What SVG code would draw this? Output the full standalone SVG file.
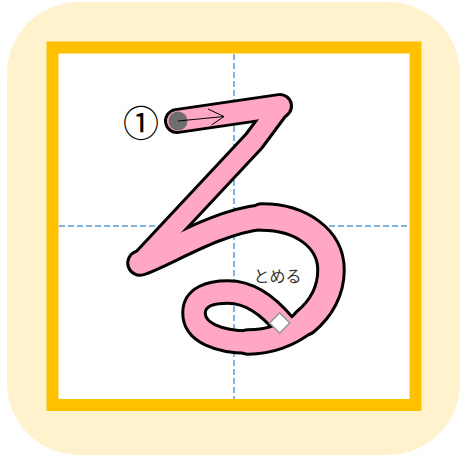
<svg xmlns="http://www.w3.org/2000/svg" width="463" height="458" viewBox="0 0 463 458">
  <style>
    .ol { fill: none; stroke: #000000; stroke-linecap: round; stroke-linejoin: round; }
    .pk { fill: none; stroke: #FFA7C4; stroke-linecap: round; stroke-linejoin: round; }
    .guide { stroke: #5B9BD5; stroke-width: 1.5; stroke-dasharray: 6 3; fill: none; }
    .jp { font-family: "Noto Sans CJK JP", "Noto Sans", sans-serif; }
  </style>
  <defs>
    <path id="s1" d="M177,121 L280,106"/>
    <path id="s2" d="M280,106 L254,141 L140,263"/>
    <path id="s3" d="M140,263 C165,255 215,222 262,217"/>
    <path id="s4" d="M262,217 C300,217 331,238 331,270 C331,291 320.75,309 305.25,321.75"/>
    <path id="s5" d="M305.25,321.75 C289.75,334.5 269,342 248,342"/>
    <path id="s6" d="M248,342 C220,342 194,333 194,313 C194,297 210,292 228,292 C250,292 268,305 285,326"/>
  </defs>

  <g id="frame">
    <rect x="7" y="2" width="453" height="453" rx="72" ry="72" fill="#FFF2CC"/>
    <rect x="52.5" y="47.5" width="363" height="357.5" fill="#FFFFFF" stroke="#FFC000" stroke-width="12"/>
  </g>

  <g id="guides">
    <line class="guide" x1="234" y1="54" x2="234" y2="399"/>
    <line class="guide" x1="59" y1="226" x2="409" y2="226"/>
  </g>

  <g id="character-ru">
    <g id="outline">
      <use href="#s1" class="ol" stroke-width="26"/>
      <use href="#s2" class="ol" stroke-width="24"/>
      <use href="#s3" class="ol" stroke-width="27.5"/>
      <use href="#s4" class="ol" stroke-width="29.5"/>
      <use href="#s5" class="ol" stroke-width="27.5"/>
      <use href="#s6" class="ol" stroke-width="25.5" style="stroke-linecap:butt"/>
    </g>
    <g id="fill">
      <use href="#s1" class="pk" stroke-width="20"/>
      <use href="#s2" class="pk" stroke-width="18"/>
      <use href="#s3" class="pk" stroke-width="21.5"/>
      <use href="#s4" class="pk" stroke-width="23.5"/>
      <use href="#s5" class="pk" stroke-width="21.5"/>
      <use href="#s6" class="pk" stroke-width="19.5" style="stroke-linecap:butt"/>
    </g>
  </g>

  <g id="start-point">
    <circle cx="178" cy="121" r="9.5" fill="#6E6E6E"/>
  </g>

  <g id="connectors">
    <line x1="178" y1="121" x2="224" y2="116.5" stroke="#000" stroke-width="1"/>
    <polyline points="208,109 224,116.5 211.5,125" fill="none" stroke="#000" stroke-width="1"/>
  </g>

  <g id="end-mark">
    <rect x="272.5" y="315.8" width="14.4" height="14.4" transform="rotate(45 279.7 323)" fill="#FFFFFF" stroke="#999999" stroke-width="1.6"/>
  </g>

  <g id="label-number">
    <text class="jp" x="141" y="137" font-size="36" text-anchor="middle" fill="#000">①</text>
  </g>

  <g id="label-tomeru">
    <text class="jp" x="277.5" y="281.5" font-size="16" text-anchor="middle" fill="#333333">とめる</text>
  </g>
</svg>
